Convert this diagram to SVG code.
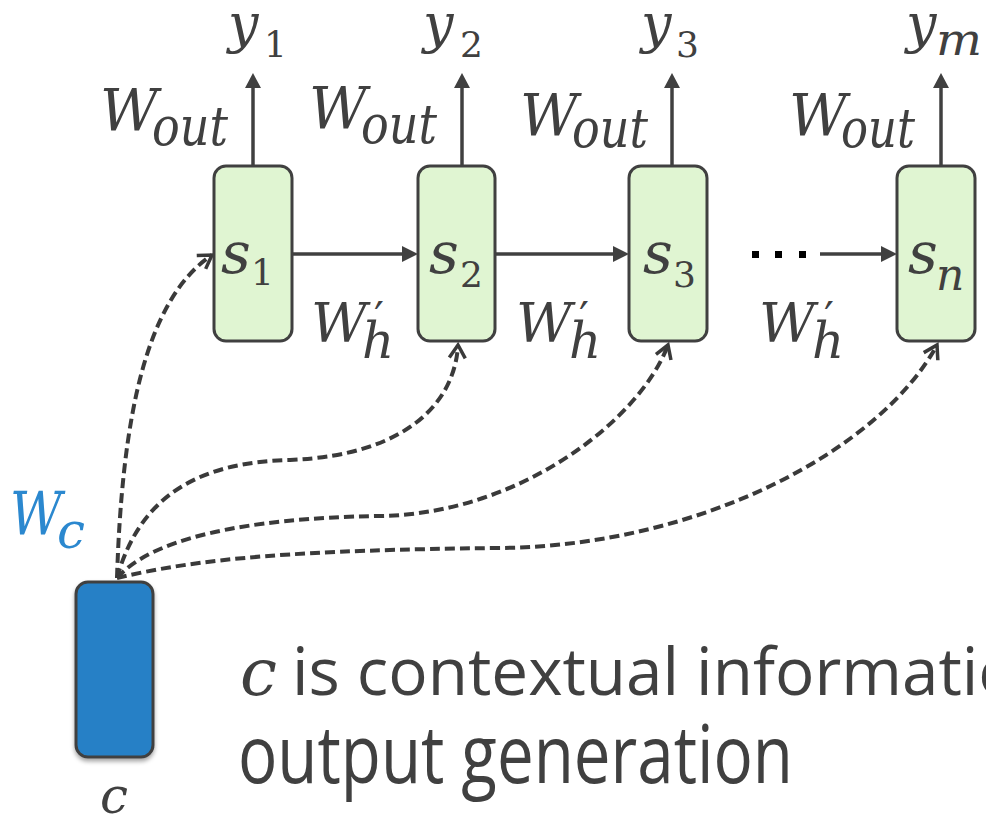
<svg xmlns="http://www.w3.org/2000/svg" width="986" height="821" viewBox="0 0 986 821">
<style>
.math{font-family:"DejaVu Serif","Liberation Serif",serif;font-style:italic;fill:#404040}
.up{font-style:normal}
.body{font-family:"Open Sans","Noto Sans",sans-serif;fill:#404040}
.cell{fill:#E0F5D2;stroke:#404040;stroke-width:3}
.ctx{fill:#2680C6;stroke:#404040;stroke-width:3}
.solid{stroke:#404040;stroke-width:3.5;fill:none}
.head{fill:#404040}
.dash{stroke:#3a3a3a;stroke-width:4;fill:none;stroke-dasharray:10 5;marker-end:url(#open)}
.blue{fill:#2B88CF}
</style>
<defs>
<marker id="open" viewBox="-15 -10 18 20" refX="0" refY="0" markerWidth="18" markerHeight="20" markerUnits="userSpaceOnUse" orient="auto">
<path d="M-13,-8 L0,0 L-13,8" fill="none" stroke="#3a3a3a" stroke-width="3.5"/>
</marker>
<filter id="shadow" x="-30%" y="-10%" width="160%" height="130%">
<feDropShadow dx="0" dy="3" stdDeviation="2" flood-color="#000" flood-opacity="0.35"/>
</filter>
</defs>

<g id="connectors">
<line class="solid" x1="253" y1="166" x2="253" y2="86"/><polygon class="head" points="245,88 261,88 253,73"/>
<line class="solid" x1="462" y1="166" x2="462" y2="86"/><polygon class="head" points="454,88 470,88 462,73"/>
<line class="solid" x1="672" y1="166" x2="672" y2="86"/><polygon class="head" points="664,88 680,88 672,73"/>
<line class="solid" x1="941" y1="166" x2="941" y2="86"/><polygon class="head" points="933,88 949,88 941,73"/>
<line class="solid" x1="293" y1="254" x2="404" y2="254"/><polygon class="head" points="402,246 402,262 418,254"/>
<line class="solid" x1="495" y1="254" x2="615" y2="254"/><polygon class="head" points="613,246 613,262 629,254"/>
<rect x="752" y="251" width="7" height="7" fill="#000"/>
<rect x="775" y="251" width="7" height="7" fill="#000"/>
<rect x="799" y="251" width="7" height="7" fill="#000"/>
<line class="solid" x1="820" y1="254" x2="883" y2="254"/><polygon class="head" points="881,246 881,262 897,254"/>
<path class="dash" d="M117,578 C122,420 145,300 212,255"/>
<path class="dash" d="M117,578 C140,495 200,462 290,460 C410,455 455,400 458,345"/>
<path class="dash" d="M117,578 C150,540 240,518 380,516 C520,514 640,420 668,345"/>
<path class="dash" d="M117,578 C200,558 300,550 500,548 C700,546 880,450 937,345"/>
</g>

<g id="s1">
<rect class="cell" x="214" y="166" width="78" height="175" rx="12"/>
<text class="math" x="221" y="273" font-size="58">s</text>
<text class="math up" x="251" y="285" font-size="36">1</text>
</g>
<g id="s2">
<rect class="cell" x="418" y="166" width="77" height="175" rx="12"/>
<text class="math" x="429" y="273" font-size="58">s</text>
<text class="math up" x="460" y="287" font-size="36">2</text>
</g>
<g id="s3">
<rect class="cell" x="629" y="166" width="78" height="175" rx="12"/>
<text class="math" x="643" y="273" font-size="58">s</text>
<text class="math up" x="673" y="287" font-size="36">3</text>
</g>
<g id="sn">
<rect class="cell" x="897" y="166" width="78" height="175" rx="12"/>
<text class="math" x="908" y="273" font-size="58">s</text>
<text class="math" x="936" y="290" font-size="44">n</text>
</g>

<g id="outputs">
<text class="math" x="228" y="42" font-size="54">y</text>
<text class="math up" x="264" y="57" font-size="36">1</text>
<text class="math" x="423" y="42" font-size="54">y</text>
<text class="math up" x="460" y="57" font-size="36">2</text>
<text class="math" x="641" y="42" font-size="54">y</text>
<text class="math up" x="676" y="57" font-size="36">3</text>
<text class="math" x="906" y="42" font-size="54">y</text>
<text class="math" x="936" y="55" font-size="44" textLength="46" lengthAdjust="spacingAndGlyphs">m</text>
</g>

<g id="wout-labels">
<text class="math" x="100" y="130" font-size="58" textLength="58" lengthAdjust="spacingAndGlyphs">W</text>
<text class="math" x="152" y="145" font-size="54" textLength="76" lengthAdjust="spacingAndGlyphs">out</text>
<text class="math" x="309" y="128" font-size="58" textLength="58" lengthAdjust="spacingAndGlyphs">W</text>
<text class="math" x="361" y="143" font-size="54" textLength="76" lengthAdjust="spacingAndGlyphs">out</text>
<text class="math" x="520" y="135" font-size="58" textLength="58" lengthAdjust="spacingAndGlyphs">W</text>
<text class="math" x="572" y="147" font-size="54" textLength="76" lengthAdjust="spacingAndGlyphs">out</text>
<text class="math" x="789" y="135" font-size="58" textLength="58" lengthAdjust="spacingAndGlyphs">W</text>
<text class="math" x="841" y="147" font-size="54" textLength="74" lengthAdjust="spacingAndGlyphs">out</text>
</g>

<g id="wh-labels">
<text class="math" x="311" y="342" font-size="55" textLength="56" lengthAdjust="spacingAndGlyphs">W</text>
<text class="math up" x="374" y="334" font-size="44">′</text>
<text class="math" x="362" y="358" font-size="50">h</text>
<text class="math" x="516" y="342" font-size="55" textLength="56" lengthAdjust="spacingAndGlyphs">W</text>
<text class="math up" x="579" y="334" font-size="44">′</text>
<text class="math" x="569" y="358" font-size="50">h</text>
<text class="math" x="759" y="342" font-size="55" textLength="56" lengthAdjust="spacingAndGlyphs">W</text>
<text class="math up" x="824" y="334" font-size="44">′</text>
<text class="math" x="812" y="358" font-size="50">h</text>
</g>

<g id="c">
<rect class="ctx" x="76" y="582" width="77" height="175" rx="12" filter="url(#shadow)"/>
<text class="math" x="100" y="813" font-size="50">c</text>
</g>

<g id="wc-label">
<text class="math blue" x="10" y="535" font-size="59" textLength="52" lengthAdjust="spacingAndGlyphs">W</text>
<text class="math blue" x="57" y="548" font-size="50">c</text>
</g>

<g id="caption">
<text class="math" x="240" y="695" font-size="66">c</text>
<text class="body" x="292" y="695" font-size="65" textLength="766" lengthAdjust="spacingAndGlyphs">is contextual information</text>
<text class="body" x="238" y="783" font-size="80" textLength="555" lengthAdjust="spacingAndGlyphs">output generation</text>
</g>
</svg>
